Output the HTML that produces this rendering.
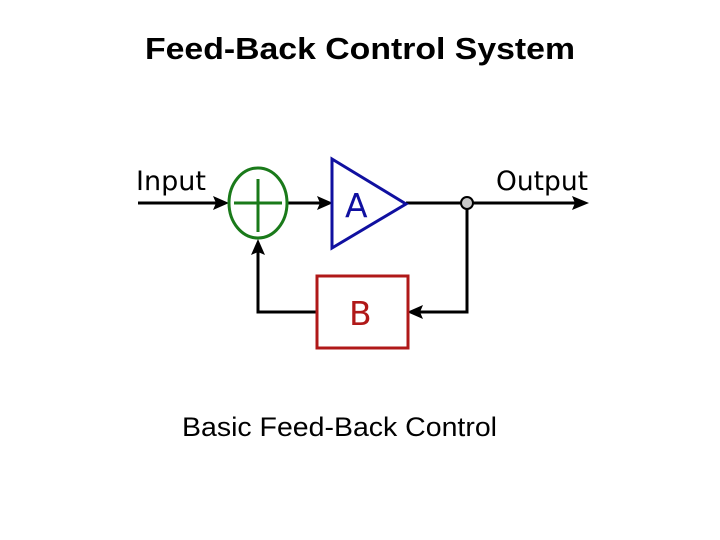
<!DOCTYPE html>
<html><head><meta charset="utf-8"><style>
html,body{margin:0;padding:0;background:#fff;}
svg{display:block;}
</style></head><body>
<svg width="720" height="540" viewBox="0 0 720 540" xmlns="http://www.w3.org/2000/svg">
<rect width="720" height="540" fill="#fff"/>
<text x="145" y="59" font-family="Liberation Sans, sans-serif" font-weight="bold" font-size="31" textLength="430" lengthAdjust="spacingAndGlyphs">Feed-Back Control System</text>
<text x="182" y="436" font-family="Liberation Sans, sans-serif" font-size="27" textLength="315" lengthAdjust="spacingAndGlyphs">Basic Feed-Back Control</text>
<g font-family="DejaVu Sans, sans-serif">
<text x="136" y="190" font-size="27" textLength="70" lengthAdjust="spacingAndGlyphs">Input</text>
<text x="496" y="190" font-size="27" textLength="92" lengthAdjust="spacingAndGlyphs">Output</text>
</g>
<g stroke="#000" stroke-width="3" fill="none">
<line x1="138" y1="203" x2="222" y2="203"/>
<line x1="288" y1="203" x2="326" y2="203"/>
<line x1="406" y1="203" x2="580" y2="203"/>
<polyline points="467,203 467,312 414,312"/>
<polyline points="317,312 258,312 258,246"/>
</g>
<g fill="#000">
<polygon points="229,203 213,196 216,203 213,210"/>
<polygon points="333,203 317,196 320,203 317,210"/>
<polygon points="589,203 572,196 575,203 572,210"/>
<polygon points="407,312 423,305 420,312 423,319"/>
<polygon points="258,239 251,255 258,252 265,255"/>
</g>
<ellipse cx="258" cy="203" rx="29" ry="35" fill="none" stroke="#1a7a1a" stroke-width="3"/>
<line x1="234" y1="203" x2="282" y2="203" stroke="#1a7a1a" stroke-width="3"/>
<line x1="258" y1="179" x2="258" y2="232" stroke="#1a7a1a" stroke-width="3"/>
<polygon points="332,159 332,248 406,204" fill="none" stroke="#1010a0" stroke-width="3"/>
<text x="345" y="217" font-family="DejaVu Sans, sans-serif" font-size="33" fill="#1010a0">A</text>
<circle cx="467" cy="203" r="6" fill="#c8c8c8" stroke="#000" stroke-width="2"/>
<rect x="317" y="276" width="91" height="72" fill="none" stroke="#b01818" stroke-width="3"/>
<text x="349" y="325" font-family="DejaVu Sans, sans-serif" font-size="33" fill="#b01818">B</text>
</svg>
</body></html>
